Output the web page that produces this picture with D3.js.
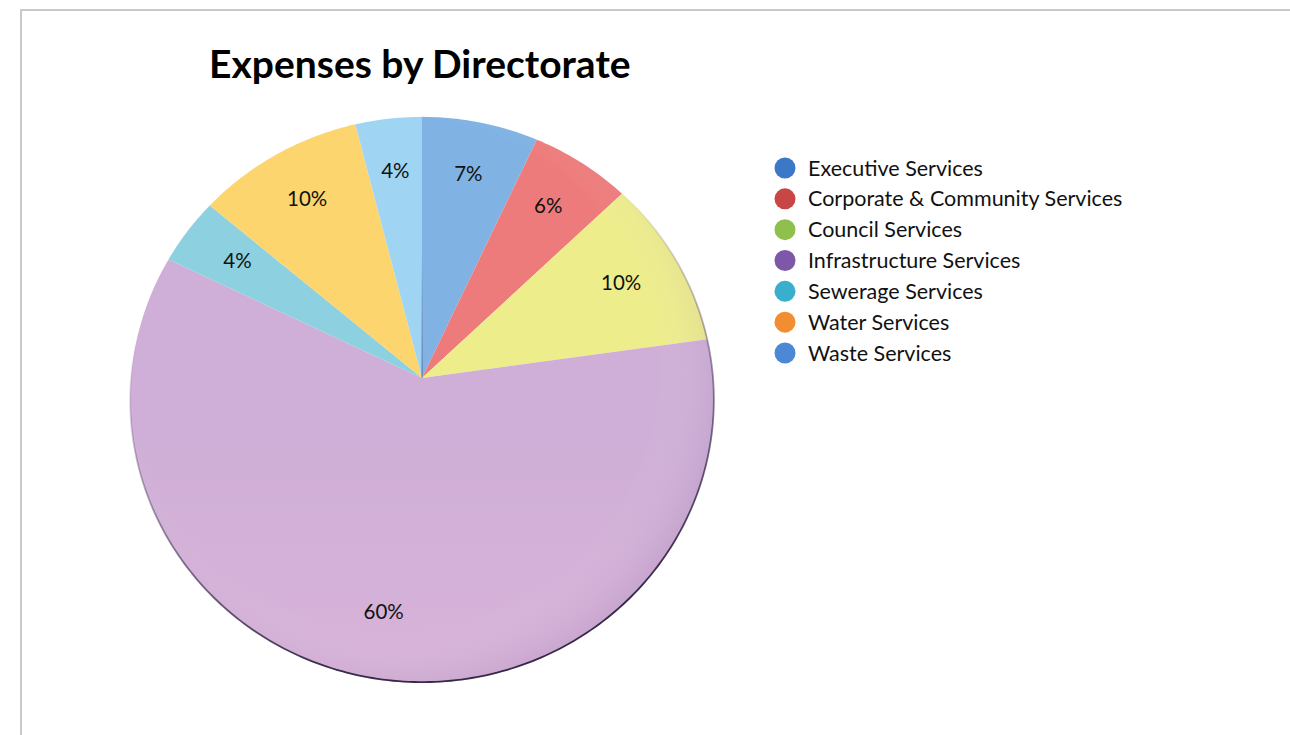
<!DOCTYPE html>
<html>
<head>
<meta charset="utf-8">
<script src="https://cdn.jsdelivr.net/npm/d3@7"></script>
<style>
  body { margin: 0; background: #fff; }
  svg { display: block; }
  .legend { font-family: Lato, "Open Sans", sans-serif; font-size: 21.5px; fill: #111; }
  .pct { font-family: Lato, "Open Sans", sans-serif; font-size: 20.5px; fill: #111; }
  .chart-title { font-family: Lato, "Open Sans", sans-serif; font-size: 39px; font-weight: bold; fill: #000; }
</style>
</head>
<body>
<div id="chart"></div>
<script>
var categories = ["Executive Services", "Corporate & Community Services", "Council Services",
                  "Infrastructure Services", "Sewerage Services", "Water Services", "Waste Services"];
var values = [7, 6, 10, 60, 4, 10, 4];
var sliceColors = ["#80b3e3", "#ee7b7b", "#eded8c", "#cfafd7", "#8dd0df", "#fcd56e", "#9fd5f3"];
var legendColors = ["#3b78c8", "#c84646", "#8fbf4c", "#7e58a8", "#37afcd", "#f28d32", "#4c88d3"];

var width = 1290, height = 735;

var svg = d3.select("#chart")
  .append("svg")
    .attr("width", width)
    .attr("height", height);

// frame
svg.append("path")
  .attr("d", "M21,735 V10 H1290")
  .attr("fill", "none")
  .attr("stroke", "#c9c9c9")
  .attr("stroke-width", 2);

svg.append("text")
  .attr("class", "chart-title")
  .attr("x", 209)
  .attr("y", 78)
  .text("Expenses by Directorate");

// tilted pie: unit circle seen with a little perspective
var cx = 422, cy = 378, rx = 291, ry = 281, tilt = 0.076;
function project(angle, r) {
  var ux = r * Math.sin(angle), uy = -r * Math.cos(angle);
  var k = 1 - tilt * uy;
  return [cx + rx * ux / k, cy + ry * uy / k];
}

var pie = d3.pie().sort(null).value(function(d) { return d; });
var arcs = pie(values);

var line = d3.line();
function slicePath(d) {
  var pts = [project(0, 0)];
  var n = Math.max(4, Math.ceil((d.endAngle - d.startAngle) * 60));
  for (var i = 0; i <= n; i++) {
    pts.push(project(d.startAngle + (d.endAngle - d.startAngle) * i / n, 1));
  }
  return line(pts) + "Z";
}

var defs = svg.append("defs");
var rim = defs.append("linearGradient")
  .attr("id", "rim")
  .attr("x1", 0).attr("y1", 0).attr("x2", 0.3).attr("y2", 1);
rim.append("stop").attr("offset", "0.35").attr("stop-color", "#3b2a55").attr("stop-opacity", 0);
rim.append("stop").attr("offset", "1").attr("stop-color", "#2e2040").attr("stop-opacity", 0.95);

var shade = defs.append("radialGradient")
  .attr("id", "shade")
  .attr("cx", 0.45).attr("cy", 0.45).attr("r", 0.6);
shade.append("stop").attr("offset", "0.75").attr("stop-color", "#fff").attr("stop-opacity", 0);
shade.append("stop").attr("offset", "1").attr("stop-color", "#5a3a7a").attr("stop-opacity", 0.18);

var pink = defs.append("linearGradient")
  .attr("id", "pink")
  .attr("x1", 0).attr("y1", 0).attr("x2", 0).attr("y2", 1);
pink.append("stop").attr("offset", "0.4").attr("stop-color", "#e8b8dc").attr("stop-opacity", 0);
pink.append("stop").attr("offset", "1").attr("stop-color", "#e8b8dc").attr("stop-opacity", 0.35);

svg.append("g")
  .selectAll("path")
  .data(arcs)
  .join("path")
    .attr("d", slicePath)
    .attr("fill", function(d, i) { return sliceColors[i]; });

svg.append("path")
  .attr("d", slicePath(arcs[3]))
  .attr("fill", "url(#pink)");

var full = { startAngle: 0, endAngle: 2 * Math.PI };
svg.append("path")
  .attr("d", slicePath(full))
  .attr("fill", "url(#shade)")
  .attr("stroke", "url(#rim)")
  .attr("stroke-width", 1.8);

svg.append("g")
  .selectAll("text")
  .data(arcs)
  .join("text")
    .attr("class", "pct")
    .attr("text-anchor", "middle")
    .attr("dominant-baseline", "middle")
    .attr("x", function(d) { return project((d.startAngle + d.endAngle) / 2, d.data > 30 ? 0.8 : 0.78)[0]; })
    .attr("y", function(d) { return project((d.startAngle + d.endAngle) / 2, d.data > 30 ? 0.8 : 0.78)[1]; })
    .text(function(d) { return d.data + "%"; });

// legend
var legendY = d3.scalePoint()
  .domain(categories)
  .range([168, 353]);

var legend = svg.append("g")
  .selectAll("g")
  .data(categories)
  .join("g")
    .attr("transform", function(d) { return "translate(785," + legendY(d) + ")"; });

legend.append("circle")
  .attr("r", 10.5)
  .attr("fill", function(d, i) { return legendColors[i]; });

legend.append("text")
  .attr("class", "legend")
  .attr("x", 23)
  .attr("dy", "0.35em")
  .text(function(d) { return d; });
</script>
</body>
</html>
